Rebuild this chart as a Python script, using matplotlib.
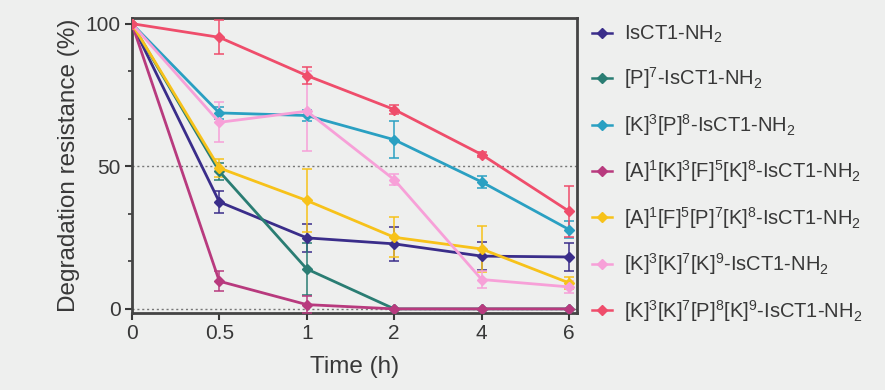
import matplotlib
matplotlib.use("Agg")
import matplotlib.pyplot as plt
from matplotlib.ticker import MultipleLocator
from matplotlib.lines import Line2D
import numpy as np

plt.rcParams["font.family"] = ["Liberation Sans", "DejaVu Sans"]
plt.rcParams["mathtext.default"] = "regular"

time_labels = ["0", "0.5", "1", "2", "4", "6"]

names = [
    r"IsCT1-NH$_2$",
    r"[P]$^7$-IsCT1-NH$_2$",
    r"[K]$^3$[P]$^8$-IsCT1-NH$_2$",
    r"[A]$^1$[K]$^3$[F]$^5$[K]$^8$-IsCT1-NH$_2$",
    r"[A]$^1$[F]$^5$[P]$^7$[K]$^8$-IsCT1-NH$_2$",
    r"[K]$^3$[K]$^7$[K]$^9$-IsCT1-NH$_2$",
    r"[K]$^3$[K]$^7$[P]$^8$[K]$^9$-IsCT1-NH$_2$",
]
colors = ["#3a2d8a", "#2a7d73", "#2aa0c2", "#b83a7e", "#f7c21a", "#f7a0d8", "#ef4d6b"]

means = [
    [100, 37.5, 24.9, 22.8, 18.5, 18.2],
    [100, 48.2, 14.0, 0, 0, 0],
    [100, 68.7, 67.8, 59.3, 44.5, 27.8],
    [100, 9.7, 1.5, 0, 0, 0],
    [100, 49.4, 38.0, 25.1, 21.0, 9.1],
    [100, 65.4, 69.3, 45.3, 10.3, 7.7],
    [100, 95.2, 81.8, 69.9, 54.1, 34.2],
]
errors = [
    [0, 4, 5, 6, 5, 5],
    [0, 3, 9, 0, 0, 0],
    [0, 2, 2, 6.5, 2, 3],
    [0, 3.5, 3, 0, 0, 0],
    [0, 3, 11, 7, 8, 2],
    [0, 7, 14, 2, 3, 2],
    [0, 6, 3, 1.5, 1, 9],
]

bg = "#eeefee"
txt = "#383838"
fig = plt.figure(figsize=(8.85, 3.9), dpi=100, facecolor=bg)
ax = fig.add_axes([0.149, 0.197, 0.503, 0.757], facecolor=bg)

x = np.arange(len(time_labels))
ax.axhline(50, color="#777777", linestyle=(0, (1.5, 2)), linewidth=1, zorder=1)
ax.axhline(0, color="#777777", linestyle=(0, (1.5, 2)), linewidth=1, zorder=1)

handles = []
for name, col, m, e in zip(names, colors, means, errors):
    ax.errorbar(
        x, m, yerr=e, color=col, marker="D", markersize=5,
        linewidth=2, elinewidth=1.1, capsize=3.5, capthick=1.1, zorder=3,
    )
    handles.append(Line2D([], [], color=col, marker="D", markersize=5,
                          linewidth=1.8, label=name))

ax.set_xlim(0, 5.09)
ax.set_ylim(-1.5, 102)
ax.set_xticks(x)
ax.set_xticklabels(time_labels)
ax.set_yticks([0, 50, 100])
ax.yaxis.set_minor_locator(MultipleLocator(50 / 3))
ax.tick_params(axis="both", which="major", labelsize=15, colors=txt,
               width=1.5, length=5, direction="out", pad=3)
ax.tick_params(axis="y", which="minor", width=1.2, length=3, colors=txt)
for sp in ax.spines.values():
    sp.set_linewidth(2)
    sp.set_color("#444444")

ax.set_xlabel("Time (h)", fontsize=17.5, color=txt, labelpad=9)
ax.set_ylabel("Degradation resistance (%)", fontsize=17.5, color=txt, labelpad=4)

leg = ax.legend(
    handles=handles, loc="upper left", bbox_to_anchor=(1.016, 1.008), frameon=False,
    fontsize=14.5, labelspacing=1.02, handlelength=1.0, handletextpad=0.6,
    borderaxespad=0,
)
for t in leg.get_texts():
    t.set_color(txt)

fig.savefig("out.png", dpi=100, facecolor=bg)
